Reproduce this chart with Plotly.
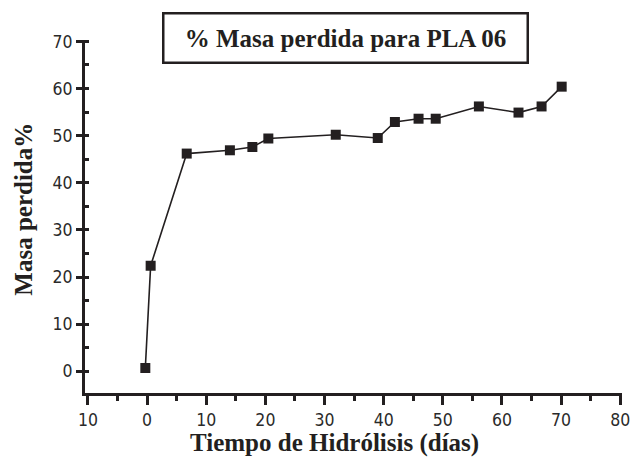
import plotly.graph_objects as go

dias = [-0.3, 0.6, 6.7, 14.0, 17.8, 20.5, 31.9, 39.0, 41.9, 45.9, 48.8, 56.1, 62.8, 66.7, 70.1]
masa_perdida = [0.7, 22.4, 46.2, 46.9, 47.6, 49.4, 50.2, 49.5, 52.9, 53.6, 53.6, 56.2, 54.9, 56.2, 60.4]

x_ticks = [-10, 0, 10, 20, 30, 40, 50, 60, 70, 80]
x_tick_labels = ["10", "0", "10", "20", "30", "40", "50", "60", "70", "80"]
y_ticks = [0, 10, 20, 30, 40, 50, 60, 70]

title_text = "% Masa perdida para PLA 06"
x_title = "Tiempo de Hidrólisis (días)"
y_title = "Masa perdida%"

ink = "#231f20"
tick_font = dict(family="DejaVu Sans Condensed, Liberation Sans, sans-serif", size=17.5, color="#2a2a2a")
serif_bold = dict(family="Liberation Serif, Times New Roman, serif", size=25, color=ink)

fig = go.Figure()
fig.add_trace(go.Scatter(
    x=dias, y=masa_perdida, mode="lines+markers",
    line=dict(color=ink, width=1.6),
    marker=dict(symbol="square", size=10, color=ink),
    showlegend=False, hoverinfo="x+y",
))

fig.update_layout(
    width=631, height=461,
    margin=dict(l=85, r=9, t=40, b=68, autoexpand=False),
    paper_bgcolor="white", plot_bgcolor="white",
    xaxis=dict(
        range=[-10.5, 80.3], tickvals=x_ticks, ticktext=x_tick_labels, automargin=False,
        showgrid=False, zeroline=False, showline=True, linecolor=ink, linewidth=3,
        ticks="outside", ticklen=9, tickwidth=3, tickcolor=ink, tickfont=tick_font,
        minor=dict(dtick=5, tick0=0, ticks="outside", ticklen=5, tickwidth=3, tickcolor=ink, showgrid=False),
    ),
    yaxis=dict(
        range=[-4.6, 70.3], tickvals=y_ticks, automargin=False,
        showgrid=False, zeroline=False, showline=True, linecolor=ink, linewidth=3,
        ticks="outside", ticklen=6, tickwidth=3, tickcolor=ink, tickfont=tick_font,
        minor=dict(dtick=5, tick0=0, ticks="inside", ticklen=4, tickwidth=3, tickcolor=ink, showgrid=False),
    ),
    annotations=[
        dict(text="<b>" + title_text + "</b>", xref="paper", yref="paper", x=0.486, y=1.005,
             xanchor="center", yanchor="middle", showarrow=False, font=serif_bold,
             bordercolor=ink, borderwidth=2.5, borderpad=0, width=362, height=47, bgcolor="white"),
        dict(text="<b>" + x_title + "</b>", xref="paper", yref="paper", x=0.465, y=-0.141,
             xanchor="center", yanchor="middle", showarrow=False, font=serif_bold),
        dict(text="<b>" + y_title + "</b>", xref="paper", yref="paper", x=-0.115, y=0.52,
             xanchor="center", yanchor="middle", showarrow=False, font=serif_bold, textangle=-90),
    ],
)

fig.write_html("out.html", config={"displayModeBar": False},
               post_script="document.body.style.margin='0';document.body.style.overflow='hidden';")
